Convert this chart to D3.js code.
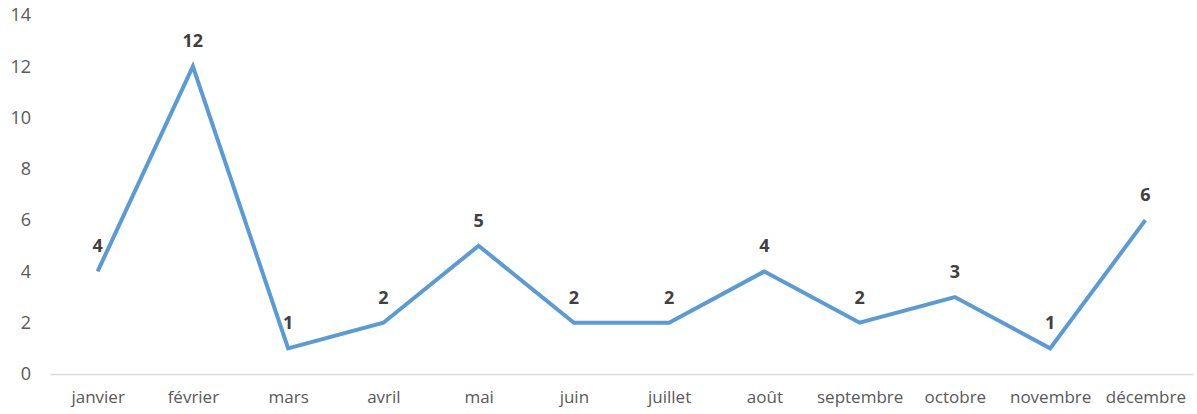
<!DOCTYPE html>
<html>
<head>
<meta charset="utf-8">
<script src="https://cdn.jsdelivr.net/npm/d3@7"></script>
<style>
body {margin:0; background:#fff;}
text {font-family: "Open Sans", "Liberation Sans", sans-serif;}
</style>
</head>
<body>
<svg></svg>
<script>
var screen = {width:1197,height:414}
var margins = {top:15,right:4,left:50,bottom:40}

var months = ["janvier","février","mars","avril","mai","juin","juillet","août","septembre","octobre","novembre","décembre"]
var counts = [4,12,1,2,5,2,2,4,2,3,1,6]
var yTicks = [0,2,4,6,8,10,12,14]

var width = screen.width - margins.left - margins.right
var height = screen.height - margins.top - margins.bottom

var svg = d3.select("svg")
            .attr("width",screen.width)
            .attr("height",screen.height)

var xScale = d3.scalePoint()
               .domain(months)
               .range([0,width])
               .padding(0.5)
var yScale = d3.scaleLinear()
               .domain([0,14])
               .range([height,0])

var graph = svg.append("g")
               .attr("transform","translate("+margins.left+","+margins.top+")")

// y axis labels only
var yAxis = d3.axisLeft(yScale).tickValues(yTicks).tickSize(0).tickPadding(19)
graph.append("g")
     .call(yAxis)
     .call(function(g){g.select(".domain").remove()})
     .selectAll("text")
     .attr("fill","#595959")
     .style("font-size","18px")

// x axis
var xAxis = d3.axisBottom(xScale).tickSize(0).tickPadding(17)
var xg = graph.append("g")
     .attr("transform","translate(0,"+height+")")
     .call(xAxis)
xg.select(".domain")
  .attr("stroke","#d9d9d9")
  .attr("stroke-width",1.5)
xg.selectAll("text")
  .attr("fill","#595959")
  .style("font-size","17px")

var lineGenerator = d3.line()
                      .x(function(d,i){return xScale(months[i])})
                      .y(function(d){return yScale(d)})
graph.append("path")
     .datum(counts)
     .attr("d",lineGenerator)
     .attr("fill","none")
     .attr("stroke","#5b9bd5")
     .attr("stroke-width",4)

graph.selectAll(".lbl")
     .data(counts)
     .enter()
     .append("text")
     .attr("class","lbl")
     .attr("x",function(d,i){return xScale(months[i])})
     .attr("y",function(d){return yScale(d)-19})
     .attr("text-anchor","middle")
     .attr("fill","#404040")
     .style("font-size","18px")
     .style("font-weight","bold")
     .text(function(d){return d})
</script>
</body>
</html>
